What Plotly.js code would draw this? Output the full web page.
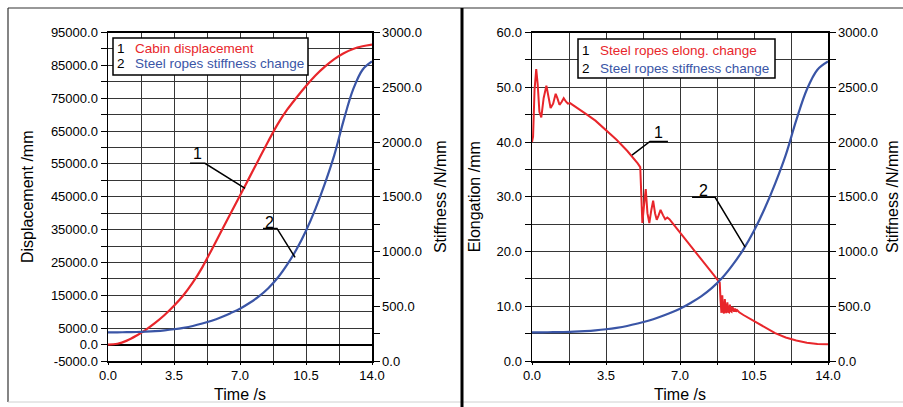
<!DOCTYPE html>
<html>
<head>
<meta charset="utf-8">
<script src="https://cdn.plot.ly/plotly-3.0.1.min.js"></script>
<style>html,body{margin:0;padding:0;background:#fff;}#chart{width:903px;height:407px;}</style>
</head>
<body>
<div id="chart"></div>
<script>
// ---------- data ----------
const time = [0,0.5,1,1.5,2,2.5,3,3.5,4,4.5,5,5.5,6,6.5,7,7.5,8,8.5,9,9.5,10,10.5,11,11.5,12,12.5,13,13.5,14];
const displacement = [0,250,1200,2700,4500,6600,9000,11800,15000,18900,23500,28900,34400,39900,45400,50900,56400,61900,67100,71500,75200,78700,81900,84600,86900,88700,90000,90800,91300];
const stiffness = [262,262,263,265,268,273,280,290,303,320,342,368,400,437,478,530,590,665,760,880,1020,1190,1390,1620,1880,2200,2480,2660,2735];

const elongTime = [0,0.05,0.12,0.2,0.27,0.35,0.44,0.55,0.68,0.78,0.88,1.0,1.12,1.2,1.3,1.4,1.5,1.6,1.7,1.8,2.0,2.3,2.6,3.0,3.5,4.0,4.5,4.8,5.0,5.12,5.17,5.22,5.3,5.38,5.46,5.55,5.64,5.73,5.82,5.9,5.98,6.08,6.2,6.3,6.4,6.5,6.6,7.0,7.5,8.0,8.5,8.88,8.92,8.96,9.0,9.04,9.08,9.12,9.16,9.2,9.24,9.28,9.32,9.36,9.4,9.44,9.48,9.52,9.56,9.6,9.65,9.7,9.8,10.0,10.5,11.0,11.5,12.0,12.5,13.0,13.5,14.0];
const elongation = [40.0,41.0,49.5,53.3,50.5,45.5,44.5,48.0,50.3,48.0,46.2,47.0,48.8,48.0,46.8,47.3,48.0,47.4,47.0,47.1,46.6,45.9,45.0,43.9,42.2,40.4,38.4,37.1,36.1,35.4,30.0,25.2,28.5,31.4,27.0,25.2,27.5,29.3,27.0,25.8,26.5,27.6,26.6,25.9,26.2,25.9,25.4,23.4,21.0,18.6,16.2,14.3,11.0,8.8,12.0,9.0,8.7,11.3,9.0,8.8,10.7,9.0,8.9,10.3,9.1,9.0,9.9,9.1,9.0,9.6,9.0,9.3,8.9,8.4,7.3,6.1,5.1,4.3,3.75,3.35,3.1,3.05];

const timeTicks = [0,3.5,7,10.5,14];
const timeTickText = ['0.0','3.5','7.0','10.5','14.0'];
const dispTicks = [-5000,0,5000,15000,25000,35000,45000,55000,65000,75000,85000,95000];
const dispTickText = ['-5000.0','0.0','5000.0','15000.0','25000.0','35000.0','45000.0','55000.0','65000.0','75000.0','85000.0','95000.0'];
const stiffTicks = [0,500,1000,1500,2000,2500,3000];
const stiffTickText = ['0.0','500.0','1000.0','1500.0','2000.0','2500.0','3000.0'];
const elongTicks = [0,10,20,30,40,50,60];
const elongTickText = ['0.0','10.0','20.0','30.0','40.0','50.0','60.0'];

const legendLeft = [['1','Cabin displacement'],['2','Steel ropes stiffness change']];
const legendRight = [['1','Steel ropes elong. change'],['2','Steel ropes stiffness change']];

// ---------- style ----------
const RED = '#e8262b', BLUE = '#3a55a6';
const FONT = 'Liberation Sans, Arial, sans-serif';
const W = 903, H = 407;
const px = v => v / W, py = v => 1 - v / H;
const yDom = [py(361), py(32.5)];
const GRID = '#363636';
const tickFont = {family: FONT, size: 13, color: '#000'};
const titleFont = {family: FONT, size: 16, color: '#000'};

function xAxis(domain, anchor) {
  return {domain, anchor, range:[0,14], tickvals: timeTicks, ticktext: timeTickText,
    showgrid:true, gridcolor:GRID, gridwidth:1, zeroline:false,
    showline:true, linecolor:'#000', linewidth:1.5, mirror:true,
    ticks:'outside', ticklen:2, tickcolor:'#000', tickfont: tickFont,
    minor:{dtick:1.75, tick0:0, showgrid:true, gridcolor:GRID, gridwidth:1, ticks:'outside', ticklen:2, tickcolor:'#000'},
    title:{text:'Time /s', font:titleFont, standoff:6}};
}
function yLeft(domain, anchor, range, tv, tt, minorDt, title, standoff, zl) {
  return {domain, anchor, range, tickvals: tv, ticktext: tt,
    showgrid:true, gridcolor:GRID, gridwidth:1,
    zeroline: zl, zerolinecolor:'#000', zerolinewidth:2,
    showline:true, linecolor:'#000', linewidth:1.5,
    ticks:'outside', ticklen:6, tickcolor:'#000', tickfont: tickFont,
    minor:{dtick:minorDt, tick0:range[0], showgrid:true, gridcolor:GRID, gridwidth:1, ticks:'outside', ticklen:6, tickcolor:'#000'},
    title:{text:title, font:titleFont, standoff}};
}
function yRight(anchor, overlaying, standoff) {
  return {anchor, overlaying, side:'right', range:[0,3000], tickvals: stiffTicks, ticktext: stiffTickText,
    showgrid:false, zeroline:false, showline:true, linecolor:'#000', linewidth:1.5,
    ticks:'outside', ticklen:6, tickcolor:'#000', tickfont: tickFont,
    minor:{dtick:250, tick0:0, showgrid:false, ticks:'outside', ticklen:6, tickcolor:'#000'},
    title:{text:'Stiffness /N/mm', font:titleFont, standoff}};
}

const traces = [
  {x: time, y: displacement, xaxis:'x', yaxis:'y', mode:'lines', line:{color:RED, width:2.2, shape:'spline', smoothing:1}},
  {x: time, y: stiffness, xaxis:'x', yaxis:'y2', mode:'lines', line:{color:BLUE, width:2.2, shape:'spline', smoothing:1}},
  {x: elongTime, y: elongation, xaxis:'x2', yaxis:'y3', mode:'lines', line:{color:RED, width:2}},
  {x: time, y: stiffness, xaxis:'x2', yaxis:'y4', mode:'lines', line:{color:BLUE, width:2.2, shape:'spline', smoothing:1}}
];

const lineStyle = {color:'#000', width:1.5};
const shapes = [
  // frame
  {type:'line', xref:'paper', yref:'paper', x0:px(8), x1:1, y0:py(8), y1:py(8), line:{color:'#333', width:1.2}},
  {type:'line', xref:'paper', yref:'paper', x0:px(8), x1:px(8), y0:py(402), y1:py(8), line:{color:'#333', width:1.2}},
  {type:'line', xref:'paper', yref:'paper', x0:px(8), x1:1, y0:py(402), y1:py(402), line:{color:'#d0d0d0', width:1}},
  {type:'line', xref:'paper', yref:'paper', x0:px(462), x1:px(462), y0:0, y1:py(8), line:{color:'#000', width:3}},
  // legend boxes
  {type:'rect', xref:'paper', yref:'paper', x0:px(113), x1:px(308), y0:py(75), y1:py(38), line:{color:'#000', width:1.5}, fillcolor:'#fff'},
  {type:'rect', xref:'paper', yref:'paper', x0:px(578), x1:px(775), y0:py(78), y1:py(39), line:{color:'#000', width:1.5}, fillcolor:'#fff'},
  // pointers left
  {type:'path', xref:'x', yref:'y', path:'M 4.35,55180 L 5.14,55180 L 7.27,47560', line:lineStyle},
  {type:'path', xref:'x', yref:'y', path:'M 8.22,35370 L 8.96,35370 L 9.92,26520', line:lineStyle},
  // pointers right
  {type:'path', xref:'x2', yref:'y3', path:'M 6.43,40.1 L 5.58,40.1 L 4.73,37.6', line:lineStyle},
  {type:'path', xref:'x2', yref:'y3', path:'M 7.57,29.9 L 8.66,29.9 L 10.08,20.8', line:lineStyle}
];

const annFont = {family: FONT, size: 13.5, color:'#000'};
const annotations = [
  {xref:'x', yref:'y', x:4.72, y:58230, text:'1', showarrow:false, font:{family:FONT, size:16, color:'#000'}},
  {xref:'x', yref:'y', x:8.54, y:37200, text:'2', showarrow:false, font:{family:FONT, size:16, color:'#000'}},
  {xref:'x2', yref:'y3', x:5.96, y:41.8, text:'1', showarrow:false, font:{family:FONT, size:16, color:'#000'}},
  {xref:'x2', yref:'y3', x:8.09, y:31.2, text:'2', showarrow:false, font:{family:FONT, size:16, color:'#000'}}
];
const legendSpec = [
  {items: legendLeft, numX: 115, txtX: 133, ys:[49, 64]},
  {items: legendRight, numX: 580, txtX: 598, ys:[51, 68]}
];
legendSpec.forEach(spec => {
  spec.items.forEach((it, i) => {
    annotations.push({xref:'paper', yref:'paper', x:px(spec.numX), y:py(spec.ys[i]), xanchor:'left', yanchor:'middle', text:it[0], showarrow:false, font:annFont});
    annotations.push({xref:'paper', yref:'paper', x:px(spec.txtX), y:py(spec.ys[i]), xanchor:'left', yanchor:'middle', text:it[1], showarrow:false, font:{family:FONT, size:13.5, color: i === 0 ? RED : BLUE}});
  });
});

const layout = {
  width: W, height: H, margin:{l:0, r:0, t:0, b:0}, showlegend:false,
  paper_bgcolor:'#fff', plot_bgcolor:'#fff',
  xaxis: xAxis([px(108), px(372)], 'y'),
  yaxis: yLeft(yDom, 'x', [-5000,95000], dispTicks, dispTickText, 5000, 'Displacement /mm', 13, true),
  yaxis2: yRight('x', 'y', 14),
  xaxis2: xAxis([px(532), px(828)], 'y3'),
  yaxis3: yLeft(yDom, 'x2', [0,60], elongTicks, elongTickText, 5, 'Elongation /mm', 12, false),
  yaxis4: yRight('x2', 'y3', 10),
  shapes, annotations
};

Plotly.newPlot('chart', traces, layout, {staticPlot:true, displayModeBar:false});
</script>
</body>
</html>
